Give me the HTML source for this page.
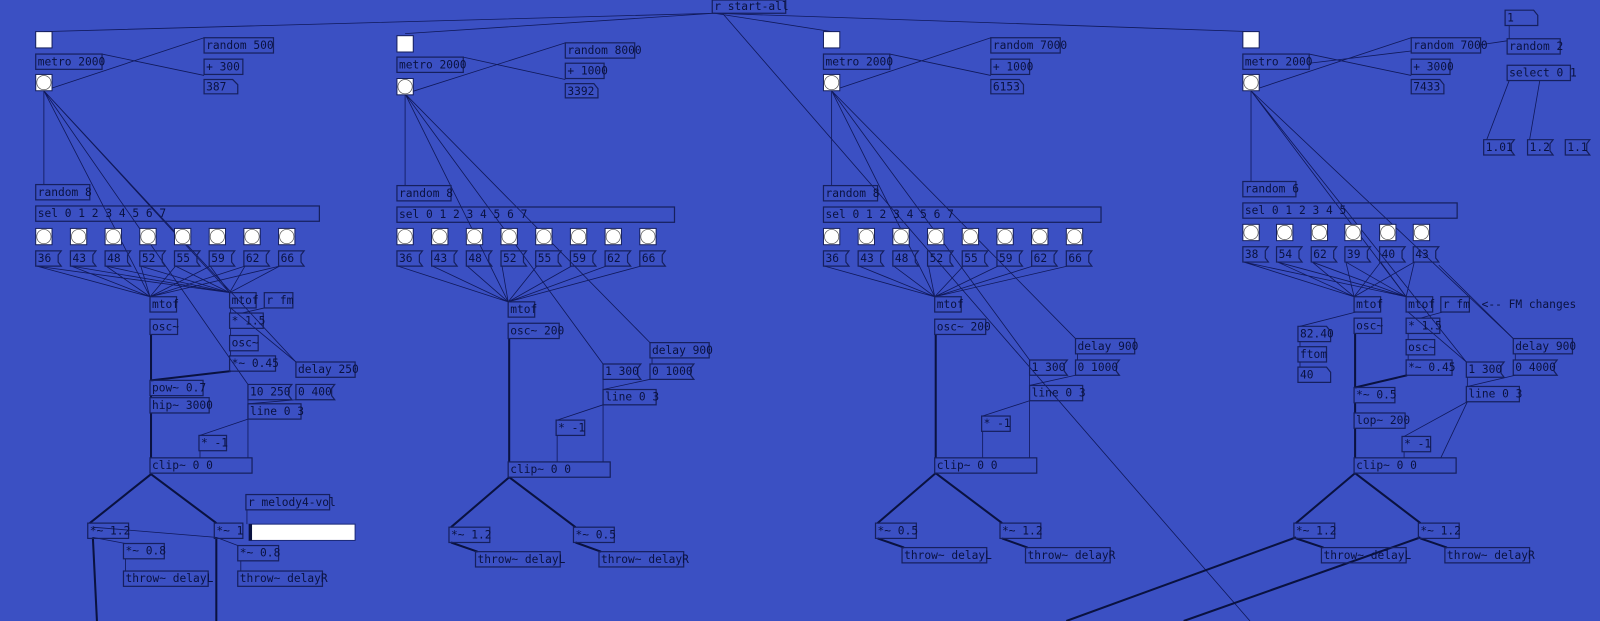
<!DOCTYPE html>
<html><head><meta charset="utf-8"><style>
html,body{margin:0;padding:0;background:#3b50c3;overflow:hidden}
svg{display:block}
text{font-family:"DejaVu Sans Mono","Liberation Mono",monospace;font-size:11px;fill:#0a1240}
.b{fill:none;stroke:#16205e;stroke-width:1.2}
.w{fill:#fff;stroke:#16205e}
.l{stroke:#10195a;stroke-width:0.8;fill:none}
.t{stroke:#0a1240;stroke-width:2;fill:none}
</style></head><body>
<svg width="1600" height="621" viewBox="0 0 1568 609" preserveAspectRatio="none" xmlns="http://www.w3.org/2000/svg">
<rect width="1568" height="609" fill="#3b50c3"/>
<path class="l" d="M700 13 L43 31 M700 13 L397 33 M700 13 L815 31 M700 13 L1226 31 M708 13 L1225 609"/>
<path class="t" d="M1045 609 L1270 527 M1160 609 L1392 527"/>
<g><rect class="b" x="698" y="0" width="72" height="13"/><text x="700" y="10">r start-all</text></g>

<!-- ============ COLUMN 1 ============ -->
<path class="l" d="M43 89 L43 181 M43 89 L200 37 M100 53 L200 74 M43 89 L225 287 M43 89 L290 355 M43 89 L243 377 M43 89 L147 291"/>
<path class="l" d="M36 261 L147 291 M70 261 L147 291 M104 261 L147 291 M138 261 L147 291 M172 261 L147 291 M206 261 L147 291 M240 261 L147 291 M274 261 L147 291
M36 261 L225 287 M70 261 L225 287 M104 261 L225 287 M138 261 L225 287 M172 261 L225 287 M206 261 L225 287 M240 261 L225 287 M274 261 L225 287"/>
<rect class="w" x="35" y="31" width="16" height="16"/>
<g><rect class="b" x="35" y="53" width="65" height="15"/><text x="37" y="64">metro 2000</text></g>
<rect class="w" x="35" y="73" width="16" height="16"/><circle cx="43" cy="81" r="7" fill="#fff" stroke="#555" stroke-width=".7"/>
<g><rect class="b" x="200" y="37" width="68" height="15"/><text x="202" y="48">random 500</text></g>
<g><rect class="b" x="200" y="58" width="38" height="15"/><text x="202" y="69">+ 300</text></g>
<g><path class="b" d="M200 78 H228 L233 83 V92 H200Z"/><text x="202" y="89">387</text></g>
<g><rect class="b" x="35" y="181" width="53" height="15"/><text x="37" y="192">random 8</text></g>
<g><rect class="b" x="35" y="202" width="278" height="15"/><text x="37" y="213">sel 0 1 2 3 4 5 6 7</text></g>
<g>
<rect class="w" x="35" y="224" width="16" height="16"/><circle cx="43" cy="232" r="7" fill="#fff" stroke="#555" stroke-width=".7"/>
<rect class="w" x="69" y="224" width="16" height="16"/><circle cx="77" cy="232" r="7" fill="#fff" stroke="#555" stroke-width=".7"/>
<rect class="w" x="103" y="224" width="16" height="16"/><circle cx="111" cy="232" r="7" fill="#fff" stroke="#555" stroke-width=".7"/>
<rect class="w" x="137" y="224" width="16" height="16"/><circle cx="145" cy="232" r="7" fill="#fff" stroke="#555" stroke-width=".7"/>
<rect class="w" x="171" y="224" width="16" height="16"/><circle cx="179" cy="232" r="7" fill="#fff" stroke="#555" stroke-width=".7"/>
<rect class="w" x="205" y="224" width="16" height="16"/><circle cx="213" cy="232" r="7" fill="#fff" stroke="#555" stroke-width=".7"/>
<rect class="w" x="239" y="224" width="16" height="16"/><circle cx="247" cy="232" r="7" fill="#fff" stroke="#555" stroke-width=".7"/>
<rect class="w" x="273" y="224" width="16" height="16"/><circle cx="281" cy="232" r="7" fill="#fff" stroke="#555" stroke-width=".7"/>
</g>
<g>
<path class="b" d="M35 246 H60 L57 250 V257 L60 261 H35Z"/><text x="37" y="257">36</text>
<path class="b" d="M69 246 H94 L91 250 V257 L94 261 H69Z"/><text x="71" y="257">43</text>
<path class="b" d="M103 246 H128 L125 250 V257 L128 261 H103Z"/><text x="105" y="257">48</text>
<path class="b" d="M137 246 H162 L159 250 V257 L162 261 H137Z"/><text x="139" y="257">52</text>
<path class="b" d="M171 246 H196 L193 250 V257 L196 261 H171Z"/><text x="173" y="257">55</text>
<path class="b" d="M205 246 H230 L227 250 V257 L230 261 H205Z"/><text x="207" y="257">59</text>
<path class="b" d="M239 246 H264 L261 250 V257 L264 261 H239Z"/><text x="241" y="257">62</text>
<path class="b" d="M273 246 H298 L295 250 V257 L298 261 H273Z"/><text x="275" y="257">66</text>
</g>
<path class="t" d="M148 328 V373 M148 388 V390 M148 405 V449 M148 373 L226 364 M148 465 L88 513 M148 465 L212 513 M91 527 L95 609 M212 527 L212 609"/>
<path class="l" d="M259 302 L237 307 M226 302 L290 355 M226 344 V349 M226 302 V307 M226 322 V329 M243 392 V396 M290 392 L243 396 M243 411 L196 427 M243 411 V449 M196 442 V449 M242 500 V514 M91 527 L123 533 M91 517 L212 527 M212 527 L233 535 M123 548 V560 M236 550 V560"/>
<g><rect class="b" x="147" y="291" width="26" height="15"/><text x="149" y="302">mtof</text></g>
<g><rect class="b" x="147" y="313" width="27" height="15"/><text x="149" y="324">osc~</text></g>
<g><rect class="b" x="147" y="373" width="52" height="15"/><text x="149" y="384">pow~ 0.7</text></g>
<g><rect class="b" x="147" y="390" width="58" height="15"/><text x="149" y="401">hip~ 3000</text></g>
<g><rect class="b" x="147" y="449" width="100" height="15"/><text x="149" y="460">clip~ 0 0</text></g>
<g><rect class="b" x="225" y="287" width="26" height="15"/><text x="227" y="298">mtof</text></g>
<g><rect class="b" x="259" y="287" width="28" height="15"/><text x="261" y="298">r fm</text></g>
<g><rect class="b" x="225" y="307" width="33" height="15"/><text x="227" y="318">* 1.5</text></g>
<g><rect class="b" x="225" y="329" width="28" height="15"/><text x="227" y="340">osc~</text></g>
<g><rect class="b" x="225" y="349" width="45" height="15"/><text x="227" y="360">*~ 0.45</text></g>
<g><rect class="b" x="290" y="355" width="58" height="15"/><text x="292" y="366">delay 250</text></g>
<g><path class="b" d="M243 377 H286 L283 381 V388 L286 392 H243Z"/><text x="245" y="388">10 250</text></g>
<g><path class="b" d="M290 377 H328 L325 381 V388 L328 392 H290Z"/><text x="292" y="388">0 400</text></g>
<g><rect class="b" x="243" y="396" width="52" height="15"/><text x="245" y="407">line 0 3</text></g>
<g><rect class="b" x="195" y="427" width="27" height="15"/><text x="197" y="438">* -1</text></g>
<g><rect class="b" x="241" y="485" width="82" height="15"/><text x="243" y="496">r melody4-vol</text></g>
<g><rect class="b" x="86" y="513" width="40" height="15"/><text x="88" y="524">*~ 1.2</text></g>
<g><rect class="b" x="210" y="513" width="28" height="15"/><text x="212" y="524">*~ 1</text></g>
<rect x="244" y="514" width="104" height="16" fill="#fff" stroke="#1c2a78"/><rect x="244" y="514" width="3" height="16" fill="#0a1240"/>
<g><rect class="b" x="121" y="533" width="40" height="15"/><text x="123" y="544">*~ 0.8</text></g>
<g><rect class="b" x="233" y="535" width="40" height="15"/><text x="235" y="546">*~ 0.8</text></g>
<g><rect class="b" x="121" y="560" width="83" height="15"/><text x="123" y="571">throw~ delayL</text></g>
<g><rect class="b" x="233" y="560" width="83" height="15"/><text x="235" y="571">throw~ delayR</text></g>

<!-- ============ COLUMN 2 ============ -->
<path class="l" d="M397 92 L397 182 M397 92 L554 42 M454 56 L554 78 M397 92 L498 296 M397 92 L591 357 M397 92 L637 336"/>
<path class="l" d="M390 261 L498 296 M424 261 L498 296 M458 261 L498 296 M492 261 L498 296 M526 261 L498 296 M560 261 L498 296 M594 261 L498 296 M628 261 L498 296"/>
<rect class="w" x="389" y="35" width="16" height="16"/>
<g><rect class="b" x="389" y="56" width="65" height="15"/><text x="391" y="67">metro 2000</text></g>
<rect class="w" x="389" y="77" width="16" height="16"/><circle cx="397" cy="85" r="7" fill="#fff" stroke="#555" stroke-width=".7"/>
<g><rect class="b" x="554" y="42" width="68" height="15"/><text x="556" y="53">random 8000</text></g>
<g><rect class="b" x="554" y="62" width="38" height="15"/><text x="556" y="73">+ 1000</text></g>
<g><path class="b" d="M554 82 H582 L586 87 V96 H554Z"/><text x="556" y="93">3392</text></g>
<g><rect class="b" x="389" y="182" width="53" height="15"/><text x="391" y="193">random 8</text></g>
<g><rect class="b" x="389" y="203" width="272" height="15"/><text x="391" y="214">sel 0 1 2 3 4 5 6 7</text></g>
<g>
<rect class="w" x="389" y="224" width="16" height="16"/><circle cx="397" cy="232" r="7" fill="#fff" stroke="#555" stroke-width=".7"/>
<rect class="w" x="423" y="224" width="16" height="16"/><circle cx="431" cy="232" r="7" fill="#fff" stroke="#555" stroke-width=".7"/>
<rect class="w" x="457" y="224" width="16" height="16"/><circle cx="465" cy="232" r="7" fill="#fff" stroke="#555" stroke-width=".7"/>
<rect class="w" x="491" y="224" width="16" height="16"/><circle cx="499" cy="232" r="7" fill="#fff" stroke="#555" stroke-width=".7"/>
<rect class="w" x="525" y="224" width="16" height="16"/><circle cx="533" cy="232" r="7" fill="#fff" stroke="#555" stroke-width=".7"/>
<rect class="w" x="559" y="224" width="16" height="16"/><circle cx="567" cy="232" r="7" fill="#fff" stroke="#555" stroke-width=".7"/>
<rect class="w" x="593" y="224" width="16" height="16"/><circle cx="601" cy="232" r="7" fill="#fff" stroke="#555" stroke-width=".7"/>
<rect class="w" x="627" y="224" width="16" height="16"/><circle cx="635" cy="232" r="7" fill="#fff" stroke="#555" stroke-width=".7"/>
</g>
<g>
<path class="b" d="M389 246 H414 L411 250 V257 L414 261 H389Z"/><text x="391" y="257">36</text>
<path class="b" d="M423 246 H448 L445 250 V257 L448 261 H423Z"/><text x="425" y="257">43</text>
<path class="b" d="M457 246 H482 L479 250 V257 L482 261 H457Z"/><text x="459" y="257">48</text>
<path class="b" d="M491 246 H516 L513 250 V257 L516 261 H491Z"/><text x="493" y="257">52</text>
<path class="b" d="M525 246 H550 L547 250 V257 L550 261 H525Z"/><text x="527" y="257">55</text>
<path class="b" d="M559 246 H584 L581 250 V257 L584 261 H559Z"/><text x="561" y="257">59</text>
<path class="b" d="M593 246 H618 L615 250 V257 L618 261 H593Z"/><text x="595" y="257">62</text>
<path class="b" d="M627 246 H652 L649 250 V257 L652 261 H627Z"/><text x="629" y="257">66</text>
</g>
<path class="t" d="M499 332 V453 M499 468 L442 517 M499 468 L564 517 M442 532 L468 541 M564 532 L589 541"/>
<path class="l" d="M591 372 V382 M637 372 L591 382 M591 397 L546 412 M591 397 V453 M546 427 V453 M639 351 V357"/>
<g><rect class="b" x="498" y="296" width="26" height="15"/><text x="500" y="307">mtof</text></g>
<g><rect class="b" x="498" y="317" width="50" height="15"/><text x="500" y="328">osc~ 200</text></g>
<g><rect class="b" x="637" y="336" width="58" height="15"/><text x="639" y="347">delay 900</text></g>
<g><path class="b" d="M591 357 H628 L625 361 V368 L628 372 H591Z"/><text x="593" y="368">1 300</text></g>
<g><path class="b" d="M637 357 H680 L677 361 V368 L680 372 H637Z"/><text x="639" y="368">0 1000</text></g>
<g><rect class="b" x="591" y="382" width="52" height="15"/><text x="593" y="393">line 0 3</text></g>
<g><rect class="b" x="545" y="412" width="28" height="15"/><text x="547" y="423">* -1</text></g>
<g><rect class="b" x="498" y="453" width="100" height="15"/><text x="500" y="464">clip~ 0 0</text></g>
<g><rect class="b" x="440" y="517" width="40" height="15"/><text x="442" y="528">*~ 1.2</text></g>
<g><rect class="b" x="562" y="517" width="40" height="15"/><text x="564" y="528">*~ 0.5</text></g>
<g><rect class="b" x="466" y="541" width="83" height="15"/><text x="468" y="552">throw~ delayL</text></g>
<g><rect class="b" x="587" y="541" width="83" height="15"/><text x="589" y="552">throw~ delayR</text></g>

<!-- ============ COLUMN 3 ============ -->
<path class="l" d="M815 89 L815 182 M815 89 L971 37 M872 53 L971 74 M815 89 L916 291 M815 89 L1009 353 M815 89 L1054 332"/>
<path class="l" d="M808 261 L916 291 M842 261 L916 291 M876 261 L916 291 M910 261 L916 291 M944 261 L916 291 M978 261 L916 291 M1012 261 L916 291 M1046 261 L916 291"/>
<rect class="w" x="807" y="31" width="16" height="16"/>
<g><rect class="b" x="807" y="53" width="65" height="15"/><text x="809" y="64">metro 2000</text></g>
<rect class="w" x="807" y="73" width="16" height="16"/><circle cx="815" cy="81" r="7" fill="#fff" stroke="#555" stroke-width=".7"/>
<g><rect class="b" x="971" y="37" width="68" height="15"/><text x="973" y="48">random 7000</text></g>
<g><rect class="b" x="971" y="58" width="38" height="15"/><text x="973" y="69">+ 1000</text></g>
<g><path class="b" d="M971 78 H999 L1003 83 V92 H971Z"/><text x="973" y="89">6153</text></g>
<g><rect class="b" x="807" y="182" width="53" height="15"/><text x="809" y="193">random 8</text></g>
<g><rect class="b" x="807" y="203" width="272" height="15"/><text x="809" y="214">sel 0 1 2 3 4 5 6 7</text></g>
<g>
<rect class="w" x="807" y="224" width="16" height="16"/><circle cx="815" cy="232" r="7" fill="#fff" stroke="#555" stroke-width=".7"/>
<rect class="w" x="841" y="224" width="16" height="16"/><circle cx="849" cy="232" r="7" fill="#fff" stroke="#555" stroke-width=".7"/>
<rect class="w" x="875" y="224" width="16" height="16"/><circle cx="883" cy="232" r="7" fill="#fff" stroke="#555" stroke-width=".7"/>
<rect class="w" x="909" y="224" width="16" height="16"/><circle cx="917" cy="232" r="7" fill="#fff" stroke="#555" stroke-width=".7"/>
<rect class="w" x="943" y="224" width="16" height="16"/><circle cx="951" cy="232" r="7" fill="#fff" stroke="#555" stroke-width=".7"/>
<rect class="w" x="977" y="224" width="16" height="16"/><circle cx="985" cy="232" r="7" fill="#fff" stroke="#555" stroke-width=".7"/>
<rect class="w" x="1011" y="224" width="16" height="16"/><circle cx="1019" cy="232" r="7" fill="#fff" stroke="#555" stroke-width=".7"/>
<rect class="w" x="1045" y="224" width="16" height="16"/><circle cx="1053" cy="232" r="7" fill="#fff" stroke="#555" stroke-width=".7"/>
</g>
<g>
<path class="b" d="M807 246 H832 L829 250 V257 L832 261 H807Z"/><text x="809" y="257">36</text>
<path class="b" d="M841 246 H866 L863 250 V257 L866 261 H841Z"/><text x="843" y="257">43</text>
<path class="b" d="M875 246 H900 L897 250 V257 L900 261 H875Z"/><text x="877" y="257">48</text>
<path class="b" d="M909 246 H934 L931 250 V257 L934 261 H909Z"/><text x="911" y="257">52</text>
<path class="b" d="M943 246 H968 L965 250 V257 L968 261 H943Z"/><text x="945" y="257">55</text>
<path class="b" d="M977 246 H1002 L999 250 V257 L1002 261 H977Z"/><text x="979" y="257">59</text>
<path class="b" d="M1011 246 H1036 L1033 250 V257 L1036 261 H1011Z"/><text x="1013" y="257">62</text>
<path class="b" d="M1045 246 H1070 L1067 250 V257 L1070 261 H1045Z"/><text x="1047" y="257">66</text>
</g>
<path class="t" d="M917 328 V449 M917 464 L860 513 M917 464 L982 513 M860 528 L886 537 M982 528 L1007 537"/>
<path class="l" d="M1009 368 V378 M1054 368 L1009 378 M1009 393 L963 408 M1009 393 V449 M963 423 V449 M1056 347 V353"/>
<g><rect class="b" x="916" y="291" width="26" height="15"/><text x="918" y="302">mtof</text></g>
<g><rect class="b" x="916" y="313" width="50" height="15"/><text x="918" y="324">osc~ 200</text></g>
<g><rect class="b" x="1054" y="332" width="58" height="15"/><text x="1056" y="343">delay 900</text></g>
<g><path class="b" d="M1009 353 H1046 L1043 357 V364 L1046 368 H1009Z"/><text x="1011" y="364">1 300</text></g>
<g><path class="b" d="M1054 353 H1097 L1094 357 V364 L1097 368 H1054Z"/><text x="1056" y="364">0 1000</text></g>
<g><rect class="b" x="1009" y="378" width="52" height="15"/><text x="1011" y="389">line 0 3</text></g>
<g><rect class="b" x="962" y="408" width="28" height="15"/><text x="964" y="419">* -1</text></g>
<g><rect class="b" x="916" y="449" width="100" height="15"/><text x="918" y="460">clip~ 0 0</text></g>
<g><rect class="b" x="858" y="513" width="40" height="15"/><text x="860" y="524">*~ 0.5</text></g>
<g><rect class="b" x="980" y="513" width="40" height="15"/><text x="982" y="524">*~ 1.2</text></g>
<g><rect class="b" x="884" y="537" width="83" height="15"/><text x="886" y="548">throw~ delayL</text></g>
<g><rect class="b" x="1005" y="537" width="83" height="15"/><text x="1007" y="548">throw~ delayR</text></g>

<!-- ============ COLUMN 4 ============ -->
<path class="l" d="M1226 89 L1226 178 M1226 89 L1383 37 M1283 53 L1383 74 M1226 89 L1378 291 M1226 89 L1437 355 M1226 89 L1483 332 M1283 62 L1383 50 M1450 44 L1477 40 M1479 25 V38 M1479 79 L1457 137 M1509 79 L1499 137 M1329 306 L1274 320 M1274 335 V340 M1274 355 V360"/>
<path class="l" d="M1219 257 L1327 291 M1252 257 L1327 291 M1286 257 L1327 291 M1319 257 L1327 291 M1353 257 L1327 291 M1386 257 L1327 291
M1219 257 L1378 291 M1252 257 L1378 291 M1286 257 L1378 291 M1319 257 L1378 291 M1353 257 L1378 291 M1386 257 L1378 291 M1410 260 L1483 332"/>
<rect class="w" x="1218" y="31" width="16" height="16"/>
<g><rect class="b" x="1218" y="53" width="65" height="15"/><text x="1220" y="64">metro 2000</text></g>
<rect class="w" x="1218" y="73" width="16" height="16"/><circle cx="1226" cy="81" r="7" fill="#fff" stroke="#555" stroke-width=".7"/>
<g><rect class="b" x="1383" y="37" width="68" height="15"/><text x="1385" y="48">random 7000</text></g>
<g><rect class="b" x="1383" y="58" width="38" height="15"/><text x="1385" y="69">+ 3000</text></g>
<g><path class="b" d="M1383 78 H1411 L1415 83 V92 H1383Z"/><text x="1385" y="89">7433</text></g>
<g><path class="b" d="M1475 10 H1503 L1507 15 V25 H1475Z"/><text x="1477" y="21">1</text></g>
<g><rect class="b" x="1477" y="38" width="52" height="15"/><text x="1479" y="49">random 2</text></g>
<g><rect class="b" x="1477" y="64" width="62" height="15"/><text x="1479" y="75">select 0 1</text></g>
<g><path class="b" d="M1454 137 H1484 L1481 141 V148 L1484 152 H1454Z"/><text x="1456" y="148">1.01</text></g>
<g><path class="b" d="M1497 137 H1522 L1519 141 V148 L1522 152 H1497Z"/><text x="1499" y="148">1.2</text></g>
<g><path class="b" d="M1534 137 H1558 L1555 141 V148 L1558 152 H1534Z"/><text x="1536" y="148">1.1</text></g>
<g><rect class="b" x="1218" y="178" width="52" height="15"/><text x="1220" y="189">random 6</text></g>
<g><rect class="b" x="1218" y="199" width="210" height="15"/><text x="1220" y="210">sel 0 1 2 3 4 5</text></g>
<g>
<rect class="w" x="1218" y="220" width="16" height="16"/><circle cx="1226" cy="228" r="7" fill="#fff" stroke="#555" stroke-width=".7"/>
<rect class="w" x="1251" y="220" width="16" height="16"/><circle cx="1259" cy="228" r="7" fill="#fff" stroke="#555" stroke-width=".7"/>
<rect class="w" x="1285" y="220" width="16" height="16"/><circle cx="1293" cy="228" r="7" fill="#fff" stroke="#555" stroke-width=".7"/>
<rect class="w" x="1318" y="220" width="16" height="16"/><circle cx="1326" cy="228" r="7" fill="#fff" stroke="#555" stroke-width=".7"/>
<rect class="w" x="1352" y="220" width="16" height="16"/><circle cx="1360" cy="228" r="7" fill="#fff" stroke="#555" stroke-width=".7"/>
<rect class="w" x="1385" y="220" width="16" height="16"/><circle cx="1393" cy="228" r="7" fill="#fff" stroke="#555" stroke-width=".7"/>
</g>
<g>
<path class="b" d="M1218 242 H1243 L1240 246 V253 L1243 257 H1218Z"/><text x="1220" y="253">38</text>
<path class="b" d="M1251 242 H1276 L1273 246 V253 L1276 257 H1251Z"/><text x="1253" y="253">54</text>
<path class="b" d="M1285 242 H1310 L1307 246 V253 L1310 257 H1285Z"/><text x="1287" y="253">62</text>
<path class="b" d="M1318 242 H1343 L1340 246 V253 L1343 257 H1318Z"/><text x="1320" y="253">39</text>
<path class="b" d="M1352 242 H1377 L1374 246 V253 L1377 257 H1352Z"/><text x="1354" y="253">40</text>
<path class="b" d="M1385 242 H1410 L1407 246 V253 L1410 257 H1385Z"/><text x="1387" y="253">43</text>
</g>
<path class="t" d="M1328 327 V380 M1328 395 V405 M1328 420 V449 M1328 380 L1379 368 M1328 464 L1270 513 M1328 464 L1392 513 M1270 528 L1297 537 M1392 528 L1418 537"/>
<path class="l" d="M1414 306 L1392 312 M1380 306 L1437 355 M1380 327 V333 M1380 348 V353 M1438 370 V379 M1485 368 L1438 379 M1438 394 L1376 428 M1438 394 L1412 449 M1376 443 V449 M1485 347 V353"/>
<g><rect class="b" x="1327" y="291" width="26" height="15"/><text x="1329" y="302">mtof</text></g>
<g><rect class="b" x="1378" y="291" width="26" height="15"/><text x="1380" y="302">mtof</text></g>
<g><rect class="b" x="1412" y="291" width="28" height="15"/><text x="1414" y="302">r fm</text></g>
<text x="1452" y="302">&lt;-- FM changes</text>
<g><rect class="b" x="1378" y="312" width="33" height="15"/><text x="1380" y="323">* 1.5</text></g>
<g><rect class="b" x="1378" y="333" width="28" height="15"/><text x="1380" y="344">osc~</text></g>
<g><rect class="b" x="1378" y="353" width="45" height="15"/><text x="1380" y="364">*~ 0.45</text></g>
<g><rect class="b" x="1483" y="332" width="58" height="15"/><text x="1485" y="343">delay 900</text></g>
<g><path class="b" d="M1483 353 H1526 L1523 357 V364 L1526 368 H1483Z"/><text x="1485" y="364">0 4000</text></g>
<g><path class="b" d="M1437 355 H1474 L1471 359 V366 L1474 370 H1437Z"/><text x="1439" y="366">1 300</text></g>
<g><rect class="b" x="1437" y="379" width="52" height="15"/><text x="1439" y="390">line 0 3</text></g>
<g><rect class="b" x="1374" y="428" width="28" height="15"/><text x="1376" y="439">* -1</text></g>
<g><path class="b" d="M1272 320 H1300 L1304 325 V335 H1272Z"/><text x="1274" y="331">82.40</text></g>
<g><rect class="b" x="1272" y="340" width="28" height="15"/><text x="1274" y="351">ftom</text></g>
<g><path class="b" d="M1272 360 H1300 L1304 365 V375 H1272Z"/><text x="1274" y="371">40</text></g>
<g><rect class="b" x="1327" y="312" width="27" height="15"/><text x="1329" y="323">osc~</text></g>
<g><rect class="b" x="1327" y="380" width="40" height="15"/><text x="1329" y="391">*~ 0.5</text></g>
<g><rect class="b" x="1327" y="405" width="50" height="15"/><text x="1329" y="416">lop~ 200</text></g>
<g><rect class="b" x="1327" y="449" width="100" height="15"/><text x="1329" y="460">clip~ 0 0</text></g>
<g><rect class="b" x="1268" y="513" width="40" height="15"/><text x="1270" y="524">*~ 1.2</text></g>
<g><rect class="b" x="1390" y="513" width="40" height="15"/><text x="1392" y="524">*~ 1.2</text></g>
<g><rect class="b" x="1295" y="537" width="83" height="15"/><text x="1297" y="548">throw~ delayL</text></g>
<g><rect class="b" x="1416" y="537" width="83" height="15"/><text x="1418" y="548">throw~ delayR</text></g>
</svg>
</body></html>
